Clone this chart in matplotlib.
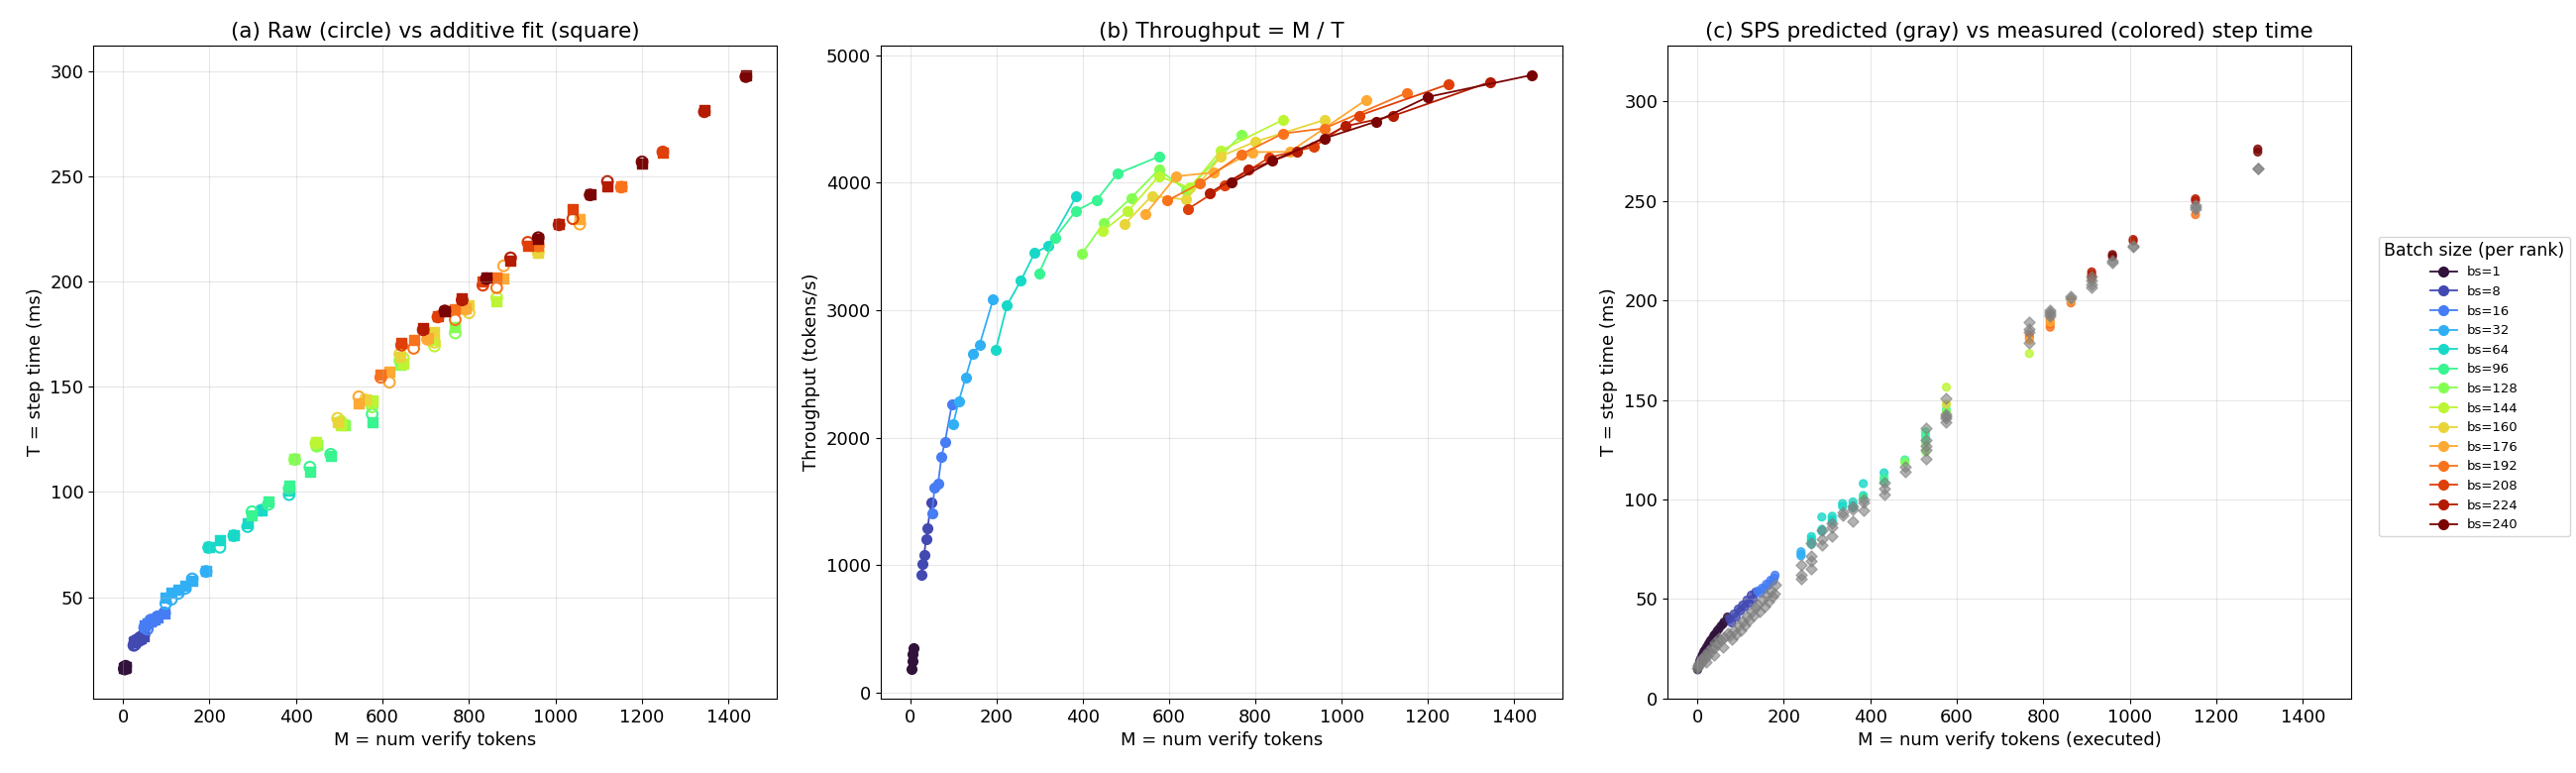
import matplotlib
matplotlib.use("Agg")
import matplotlib.pyplot as plt
import numpy as np

# batch sizes (per rank)
batch_sizes = [1, 8, 16, 32, 64, 96, 128, 144, 160, 176, 192, 208, 224, 240]

# M = number of verify tokens, one row per batch size
verify_tokens = [
    [3, 4, 5, 6],
    [25, 28, 32, 36, 40, 48],
    [50, 56, 64, 72, 80, 96],
    [99, 112, 128, 144, 160, 192],
    [198, 224, 256, 288, 320, 384],
    [298, 336, 384, 432, 480, 576],
    [397, 448, 512, 576, 640, 768],
    [446, 504, 576, 648, 720, 864],
    [496, 560, 640, 720, 800, 960],
    [545, 616, 704, 792, 880, 1056],
    [596, 672, 768, 864, 960, 1152],
    [644, 728, 832, 936, 1040, 1248],
    [694, 784, 896, 1008, 1120, 1344],
    [744, 840, 960, 1080, 1200, 1440],
]

# measured step time (ms)
step_raw = [
    [16.0, 15.9, 16.6, 17.2],
    [27.1, 27.6, 29.6, 29.8, 30.9, 32.1],
    [35.6, 34.8, 39.1, 38.9, 40.7, 42.5],
    [47.0, 49.0, 51.8, 54.2, 58.7, 62.2],
    [73.6, 73.7, 79.2, 83.5, 91.3, 98.7],
    [90.6, 94.1, 101.6, 111.8, 117.9, 137.0],
    [115.4, 121.7, 131.9, 140.4, 162.4, 175.5],
    [123.2, 133.5, 142.2, 163.6, 169.3, 192.3],
    [135.0, 143.7, 165.5, 171.1, 185.1, 213.7],
    [145.2, 152.1, 172.5, 186.8, 207.4, 227.2],
    [154.4, 168.2, 181.8, 197.0, 216.9, 244.8],
    [169.7, 183.1, 198.2, 218.6, 229.8, 261.5],
    [177.0, 191.2, 211.2, 226.9, 247.5, 280.6],
    [186.0, 201.3, 220.8, 241.1, 256.8, 297.3],
]

# additive-model fit of step time (ms)
step_fit = [
    [16.5, 16.6, 16.8, 17.0],
    [28.5, 29.0, 29.5, 30.0, 30.5, 31.5],
    [36.5, 37.5, 38.5, 39.5, 40.5, 42.5],
    [49.8, 52.0, 53.8, 55.5, 58.0, 62.3],
    [74.0, 76.9, 79.5, 85.0, 91.0, 100.5],
    [89.0, 95.5, 103.0, 109.7, 117.0, 133.0],
    [115.8, 122.5, 131.5, 143.0, 160.5, 178.5],
    [123.5, 131.5, 143.5, 161.0, 172.0, 190.5],
    [133.0, 144.0, 164.3, 176.0, 188.7, 213.8],
    [142.0, 157.0, 173.0, 187.5, 201.3, 229.6],
    [155.7, 172.0, 187.0, 202.0, 217.0, 245.3],
    [171.0, 183.5, 200.0, 217.0, 234.3, 261.0],
    [177.7, 191.8, 210.0, 227.5, 245.3, 281.4],
    [186.0, 202.0, 220.1, 241.4, 255.8, 298.0],
]

# SPS replay: executed tokens, measured / predicted step time, batch size
sps_tokens = [1, 3, 6, 10, 15, 22, 30, 38, 46, 55, 62, 70,
              2, 5, 8, 12, 18, 26, 34, 42, 50,
              20, 40, 60,
              75, 85, 95, 105, 115, 125, 135,
              80, 90, 100, 110, 120, 130,
              140, 150, 160, 170, 180,
              145, 155, 165, 175, 178,
              240, 240, 240, 264, 264, 264, 264, 288, 288, 288, 312, 312, 312,
              336, 336, 360, 360, 360, 384, 384, 384, 432, 432, 432, 480, 480,
              528, 528, 528, 528, 528, 576, 576, 576, 576, 576,
              768, 768, 768, 768, 816, 816, 816, 816, 864, 864,
              912, 912, 912, 912, 960, 960, 1008, 1008, 1152, 1152, 1152, 1296, 1296]
sps_measured = [14.5, 16.5, 19.0, 21.0, 23.5, 26.0, 29.0, 31.5, 34.0, 36.5, 38.5, 41.0,
                16.0, 18.0, 20.0, 22.0, 24.5, 27.5, 30.0, 32.5, 35.0,
                24.0, 32.0, 37.5,
                40.0, 42.5, 45.0, 47.0, 49.5, 52.0, 53.5,
                38.0, 41.0, 44.0, 46.0, 48.0, 50.0,
                54.0, 55.5, 57.5, 59.5, 62.0,
                53.0, 55.0, 57.0, 59.0, 60.5,
                73.8, 72.5, 71.7, 81.4, 80.0, 79.0, 77.5, 91.2, 85.0, 84.0, 91.6, 90.0, 89.0,
                98.0, 96.5, 98.8, 97.0, 96.0, 108.0, 102.0, 101.0, 113.4, 110.7, 109.0, 119.9, 118.5,
                134.0, 132.0, 128.0, 124.0, 130.0, 156.4, 147.7, 145.0, 144.0, 148.0,
                173.3, 182.4, 181.0, 180.0, 186.5, 188.0, 190.0, 189.0, 198.7, 200.0,
                214.3, 212.0, 211.0, 213.0, 223.0, 222.0, 230.6, 229.8, 251.0, 250.0, 243.0, 276.0, 274.5]
sps_predicted = [15.5, 16.5, 17.5, 18.5, 20.0, 21.5, 23.5, 25.5, 27.5, 29.5, 31.0, 33.0,
                 17.0, 18.0, 19.5, 20.5, 22.0, 24.0, 26.0, 28.5, 30.5,
                 18.5, 22.0, 26.0,
                 32.0, 34.5, 37.0, 39.0, 41.5, 44.0, 46.0,
                 30.0, 32.5, 34.5, 37.0, 39.5, 42.0,
                 47.5, 49.5, 51.5, 54.0, 57.0,
                 44.0, 46.5, 49.0, 51.0, 52.5,
                 67.3, 62.0, 60.4, 78.0, 71.7, 65.0, 69.0, 84.7, 77.0, 80.0, 88.0, 81.4, 86.0,
                 93.4, 92.0, 96.6, 89.0, 95.0, 99.9, 94.5, 98.5, 108.6, 105.3, 102.7, 116.2, 114.0,
                 135.7, 130.0, 125.0, 120.5, 127.0, 151.0, 143.0, 141.0, 139.0, 142.0,
                 178.5, 189.0, 185.7, 184.0, 192.0, 195.0, 194.0, 193.0, 202.0, 201.0,
                 212.0, 210.0, 208.0, 206.5, 220.0, 219.0, 227.6, 227.0, 248.0, 246.0, 247.0, 266.0, 266.0]
sps_batch = [1] * 12 + [1] * 9 + [1] * 3 + [8] * 7 + [8] * 6 + [16] * 5 + [16] * 5 + \
            [32, 32, 32, 64, 64, 64, 64, 64, 64, 64, 64, 64, 64,
             64, 64, 64, 64, 64, 64, 64, 96, 64, 96, 96, 96, 128,
             96, 96, 128, 128, 96, 144, 128, 96, 128, 160,
             144, 192, 192, 176, 192, 192, 192, 176, 192, 176,
             224, 224, 208, 224, 240, 240, 224, 224, 224, 224, 192, 240, 240]

colors = plt.cm.turbo(np.linspace(0, 1, len(batch_sizes)))
color_of = dict(zip(batch_sizes, colors))

plt.rcParams["font.size"] = 13
fig = plt.figure(figsize=(26, 7.8), dpi=100)
ax1 = fig.add_axes([0.0362, 0.0962, 0.2654, 0.845])
ax2 = fig.add_axes([0.3419, 0.0962, 0.2646, 0.845])
ax3 = fig.add_axes([0.6473, 0.0962, 0.2654, 0.845])

# (a) raw vs fit
for bs, m, t, tf in zip(batch_sizes, verify_tokens, step_raw, step_fit):
    c = color_of[bs]
    ax1.scatter(m, t, s=60, facecolors="none", edgecolors=[c], linewidths=1.5)
    ax1.scatter(m, tf, s=60, marker="s", color=[c])
ax1.set(xlabel="M = num verify tokens", ylabel="T = step time (ms)")
ax1.set_title("(a) Raw (circle) vs additive fit (square)", fontsize=15.5)

# (b) throughput
for bs, m, t in zip(batch_sizes, verify_tokens, step_raw):
    thr = np.array(m) / (np.array(t) / 1000.0)
    ax2.plot(m, thr, "-o", color=color_of[bs], lw=1.3, ms=7, label=f"bs={bs}")
ax2.set(xlabel="M = num verify tokens", ylabel="Throughput (tokens/s)")
ax2.set_title("(b) Throughput = M / T", fontsize=15.5)

# (c) predicted vs measured
ax3.scatter(sps_tokens, sps_measured, s=32, color=[color_of[b] for b in sps_batch], alpha=0.8)
ax3.scatter(sps_tokens, sps_predicted, s=32, marker="D", color="gray", alpha=0.6)
ax3.set(xlabel="M = num verify tokens (executed)", ylabel="T = step time (ms)")
ax3.set_title("(c) SPS predicted (gray) vs measured (colored) step time", fontsize=15.5)
ax3.set_xlim(ax1.get_xlim())
ax3.set_ylim(0, 328)

for ax in (ax1, ax2, ax3):
    ax.grid(True, alpha=0.3)

handles, labels = ax2.get_legend_handles_labels()
fig.legend(handles, labels, title="Batch size (per rank)", loc="center left",
           bbox_to_anchor=(0.921, 0.5), fontsize=9.5, title_fontsize=12.5)

fig.savefig("out.png")
